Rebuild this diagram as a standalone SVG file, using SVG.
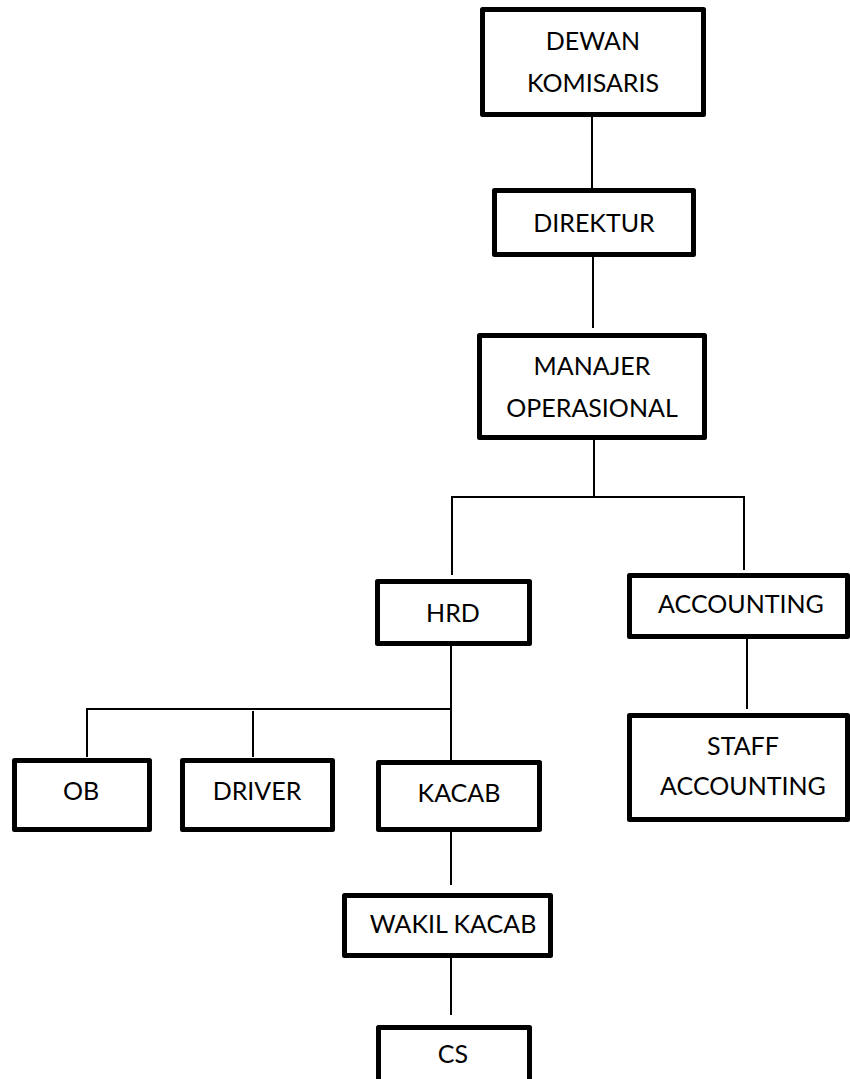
<svg xmlns="http://www.w3.org/2000/svg" width="850" height="1079" viewBox="0 0 850 1079">
<style>
.box{fill:#fff;stroke:#000;stroke-width:5;stroke-linejoin:round}
.t{font-family:Lato,"Liberation Sans",sans-serif;font-size:25px;fill:#000;text-anchor:middle}
.c{stroke:#000;stroke-width:2;fill:none}
</style>
<rect width="850" height="1079" fill="#fff"/>
<g id="connectors">
<line class="c" x1="592" y1="117" x2="592" y2="197"/>
<line class="c" x1="593" y1="257" x2="593" y2="328"/>
<line class="c" x1="594" y1="440" x2="594" y2="497"/>
<line class="c" x1="451" y1="497" x2="745" y2="497"/>
<line class="c" x1="452" y1="496" x2="452" y2="575"/>
<line class="c" x1="744" y1="496" x2="744" y2="570"/>
<line class="c" x1="747" y1="639" x2="747" y2="709"/>
<line class="c" x1="451" y1="646" x2="451" y2="760"/>
<line class="c" x1="86" y1="709" x2="452" y2="709"/>
<line class="c" x1="87" y1="708" x2="87" y2="757"/>
<line class="c" x1="253" y1="711" x2="253" y2="757"/>
<line class="c" x1="451" y1="832" x2="451" y2="885"/>
<line class="c" x1="451" y1="958" x2="451" y2="1015"/>
</g>
<g id="dewan-komisaris">
<rect class="box" x="482.5" y="9.5" width="221" height="105"/>
<text class="t" x="593" y="50">DEWAN</text>
<text class="t" x="593" y="92">KOMISARIS</text>
</g>
<g id="direktur">
<rect class="box" x="494.5" y="190.5" width="199" height="64"/>
<text class="t" x="594" y="232">DIREKTUR</text>
</g>
<g id="manajer-operasional">
<rect class="box" x="479.5" y="335.5" width="225" height="102"/>
<text class="t" x="592" y="375">MANAJER</text>
<text class="t" x="592" y="417">OPERASIONAL</text>
</g>
<g id="hrd">
<rect class="box" x="377.5" y="581.5" width="152" height="62"/>
<text class="t" x="453" y="622">HRD</text>
</g>
<g id="accounting">
<rect class="box" x="629.5" y="575.5" width="218" height="61"/>
<text class="t" x="741" y="613">ACCOUNTING</text>
</g>
<g id="staff-accounting">
<rect class="box" x="629.5" y="715.5" width="218" height="104"/>
<text class="t" x="743" y="755">STAFF</text>
<text class="t" x="743" y="795">ACCOUNTING</text>
</g>
<g id="ob">
<rect class="box" x="14.5" y="760.5" width="135" height="69"/>
<text class="t" x="81" y="800">OB</text>
</g>
<g id="driver">
<rect class="box" x="182.5" y="760.5" width="150" height="69"/>
<text class="t" x="257" y="800">DRIVER</text>
</g>
<g id="kacab">
<rect class="box" x="378.5" y="762.5" width="161" height="67"/>
<text class="t" x="459" y="802">KACAB</text>
</g>
<g id="wakil-kacab">
<rect class="box" x="344.5" y="895.5" width="206" height="60"/>
<text class="t" x="453" y="933">WAKIL KACAB</text>
</g>
<g id="cs">
<rect class="box" x="378.5" y="1027.5" width="151" height="62"/>
<text class="t" x="453" y="1063">CS</text>
</g>
</svg>
